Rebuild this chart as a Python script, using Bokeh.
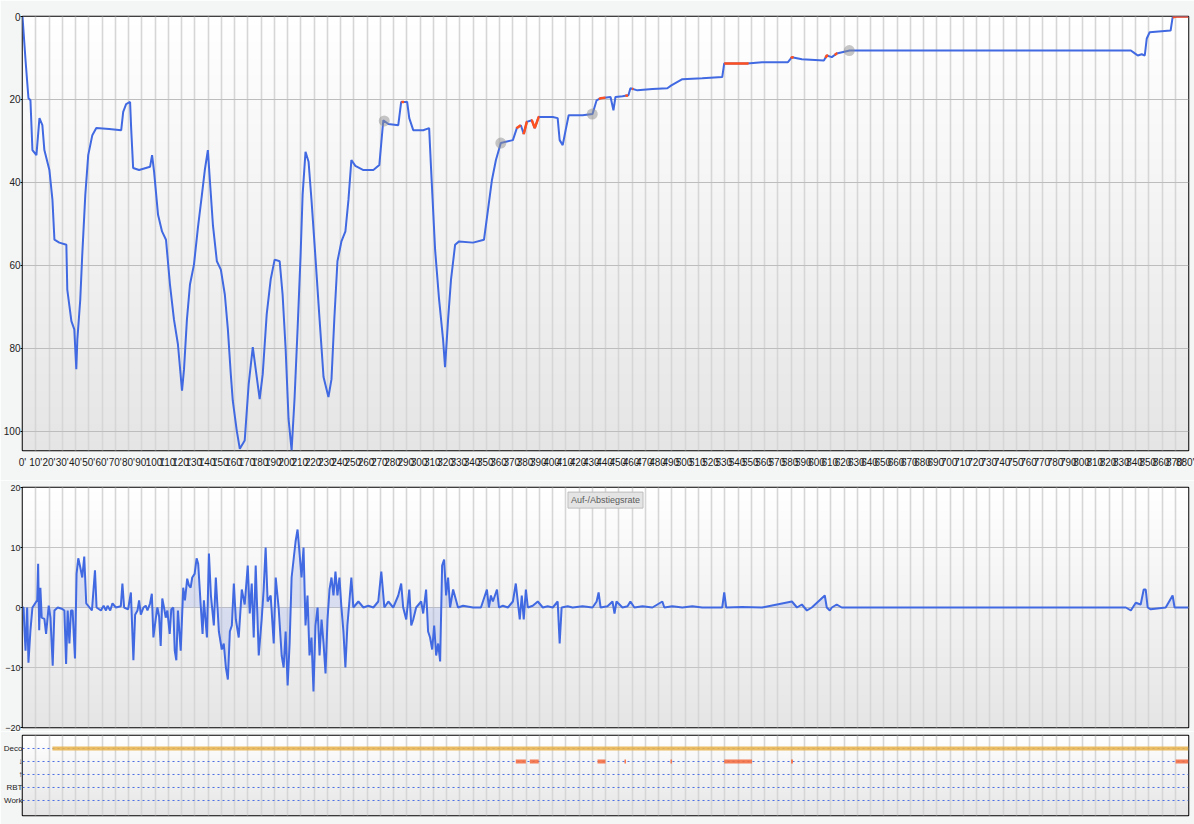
import numpy as np
from bokeh.plotting import figure
from bokeh.layouts import column
from bokeh.models import Range1d, FixedTicker, Label, CustomJSTickFormatter
from bokeh.embed import file_html
from bokeh.resources import INLINE

# ---------------- data ----------------
# depth profile (time in minutes, depth in m)
depth_t = [0, 2.3, 4.5, 6.0, 7.5, 10.5, 12.8, 15.0, 16.5, 20.3,
           22.6, 24.1, 27.8, 33.1, 33.8, 36.9, 39.1, 40.6, 41.4, 43.6,
           45.1, 47.4, 49.6, 52.7, 55.7, 65.4, 74.5, 76.0, 78.2, 81.2,
           82.0, 83.5, 88.0, 96.3, 97.8, 99.3, 102.3, 105.3, 108.3, 111.3,
           114.3, 117.3, 120.4, 121.9, 124.1, 126.4, 129.4, 132.4, 135.4, 137.6,
           139.9, 141.4, 143.7, 146.7, 149.7, 152.7, 155.0, 157.2, 158.7, 161.7,
           164.0, 167.7, 170.7, 173.8, 176.0, 179.0, 181.3, 184.3, 187.3, 190.3,
           194.1, 196.3, 198.6, 200.8, 203.1, 205.3, 207.6, 209.9, 211.4, 213.6,
           215.9, 218.1, 221.1, 224.1, 227.2, 230.9, 233.2, 235.4, 237.7, 240.7,
           243.7, 246.0, 248.2, 251.2, 257.3, 264.8, 269.3, 272.3, 276.1, 283.6,
           285.8, 290.3, 291.9, 294.9, 302.4, 306.9, 308.4, 311.4, 314.4, 317.4,
           318.9, 321.2, 323.4, 326.5, 329.5, 340.0, 348.3, 351.3, 354.3, 357.3,
           361.0, 370.1, 373.1, 376.1, 378.3, 380.6, 384.4, 386.6, 389.6, 400.2,
           403.9, 405.4, 407.7, 409.9, 412.2, 422.7, 430.2, 433.3, 436.3, 443.8,
           446.0, 447.5, 452.8, 457.3, 458.8, 464.1, 475.4, 486.7, 489.7, 498.0,
           513.0, 528.1, 529.6, 546.9, 558.2, 577.7, 580.7, 588.2, 604.8, 607.0,
           610.8, 614.5, 624.3, 640.9, 836.5, 839.5, 841.7, 844.7, 847.0, 848.5,
           850.7, 866.5, 868.0, 871.0, 880]
depth_m = [0, 10.6, 19.7, 20.2, 32.2, 33.4, 24.5, 26.2, 32.2, 37.0,
           44.2, 53.8, 54.5, 55.0, 65.8, 73.4, 75.4, 85.0, 77.8, 68.2,
           57.4, 43.0, 33.4, 28.6, 26.9, 27.1, 27.4, 23.0, 21.1, 20.6,
           26.9, 36.5, 37.0, 36.2, 33.4, 37.4, 47.8, 51.8, 53.8, 64.6,
           73.0, 79.0, 90.2, 85.0, 73.0, 64.6, 59.8, 50.9, 43.0, 37.0,
           32.2, 39.4, 50.2, 59.0, 61.0, 67.0, 75.4, 86.2, 92.6, 99.8,
           104.2, 102.2, 88.6, 79.7, 85.0, 92.2, 86.2, 71.8, 63.4, 58.6,
           59.0, 67.0, 80.2, 97.0, 104.6, 92.2, 75.4, 57.4, 43.0, 32.6,
           35.0, 44.2, 58.1, 72.5, 86.9, 91.7, 87.4, 72.5, 59.0, 54.2,
           51.8, 44.2, 34.6, 36.0, 37.0, 37.0, 35.8, 25.0, 25.9, 26.2,
           20.6, 20.6, 24.5, 27.4, 27.4, 26.9, 37.0, 56.2, 68.2, 77.8,
           84.5, 73.0, 63.4, 55.0, 54.2, 54.5, 53.8, 46.6, 39.4, 34.6,
           30.5, 29.8, 26.9, 26.2, 28.3, 25.4, 25.0, 26.9, 24.2, 24.2,
           24.5, 29.8, 31.0, 27.4, 23.8, 23.8, 23.5, 20.2, 19.7, 19.4,
           22.6, 19.4, 19.2, 19.0, 17.3, 17.8, 17.5, 17.3, 16.6, 15.1,
           14.9, 14.6, 11.3, 11.3, 11.0, 11.0, 9.8, 10.3, 10.6, 9.4,
           9.8, 8.9, 8.2, 8.2, 8.2, 8.9, 9.4, 9.1, 9.4, 5.3,
           3.8, 3.4, 0.2, 0, 0]

# fast-ascent warning windows on the profile (minutes)
red_start = [286, 373, 378, 384, 435, 455, 460, 529.6, 580, 606, 613, 868]
red_end = [288, 376, 381, 390, 440, 457, 461, 548, 582, 608, 615, 880]

# grey event markers (minutes)
marker_t = [273, 361, 430, 624]

# ascent / descent rate (m/min)
rate_t = [0, 0.8, 1.5, 2.3, 3.0, 3.5, 4.5, 6.0, 7.5, 9.6,
          11.1, 11.8, 12.6, 13.5, 14.5, 16.5, 17.8, 19.8, 21.1, 22.8,
          24.1, 26.6, 29.6, 31.6, 32.9, 34.1, 35.4, 36.6, 37.8, 39.6,
          40.8, 42.1, 43.6, 45.1, 46.6, 48.1, 50.6, 52.4, 54.7, 55.9,
          59.2, 61.2, 63.0, 64.2, 66.2, 67.9, 70.5, 74.2, 75.4, 76.7,
          79.7, 81.8, 83.7, 85.0, 86.8, 88.0, 89.3, 91.3, 93.0, 94.3,
          96.3, 97.6, 98.8, 100.6, 101.8, 103.1, 104.3, 105.5, 106.8, 108.1,
          109.3, 111.1, 112.3, 113.8, 114.9, 116.1, 117.3, 119.4, 121.3, 122.6,
          124.3, 125.6, 126.9, 128.1, 129.9, 131.4, 132.6, 134.4, 135.9, 136.9,
          139.2, 140.7, 142.2, 144.4, 145.9, 148.2, 150.4, 151.9, 153.5, 155.0,
          156.5, 158.0, 159.5, 161.0, 163.2, 165.5, 167.7, 170.0, 171.5, 173.0,
          174.5, 176.0, 178.3, 180.5, 182.0, 183.5, 185.0, 187.3, 189.6, 191.1,
          193.3, 195.6, 197.1, 198.6, 200.1, 201.6, 203.1, 204.6, 206.1, 207.6,
          209.1, 210.6, 212.1, 213.6, 215.1, 216.6, 218.1, 219.6, 221.1, 222.7,
          224.2, 225.7, 227.2, 228.7, 230.2, 231.7, 233.2, 234.7, 236.2, 237.7,
          239.2, 240.7, 242.2, 243.7, 245.2, 246.7, 248.2, 249.7,
          253.5, 257.3, 261.0, 264.8, 268.5, 270.8, 273.1, 276.1, 279.8, 283.6,
          285.8, 287.3, 289.6, 291.9, 293.4, 294.9, 297.1, 300.9, 302.4, 304.6,
          306.1, 307.6, 309.2, 310.7, 312.2, 313.7, 315.2, 316.7, 318.2, 319.7,
          321.2, 322.7, 325.0, 328.7, 332.5, 340.0, 346.0, 350.5, 352.0, 353.5,
          355.0, 358.1, 359.6, 362.6, 366.3, 370.1, 372.3, 373.8, 375.3, 376.8,
          378.3, 379.9, 381.4, 385.1, 388.9, 392.7, 396.4, 400.2, 403.9, 405.4,
          406.9, 411.5, 415.2, 422.7, 430.2, 433.3, 434.8, 436.3, 441.5, 445.3,
          446.8, 448.3, 452.8, 456.6, 458.8, 461.8, 467.9, 475.4, 482.9, 484.4,
          490.4, 498.0, 505.5, 513.0, 528.1, 529.6, 531.1, 543.1, 558.2, 580.7,
          584.5, 588.2, 592.0, 595.7, 605.5, 607.0, 609.3, 610.8, 614.5, 618.3,
          625.8, 832.7, 836.5, 840.2, 843.9, 846.2, 847.7, 849.2, 851.5, 862.8,
          868.0, 869.5, 880]
rate_v = [0, 0, -3.8, -7.2, -3.3, 0, -9.2, -3.8, 0, 0.7,
          1.2, 7.3, -3.8, 3.3, -1.7, -1.9, -4.4, 0.3, -1.7, -9.7,
          -0.5, 0, -0.2, -0.5, -9.4, -0.5, -6.0, -0.5, -0.5, -8.5,
          5.6, 8.2, 6.7, 5.0, 8.5, 0.7, 0, -0.5, 6.2, 0,
          -0.5, 0.3, -0.5, 0.3, -0.5, 0.7, 0, 0.2, 4.0, 0,
          -0.3, 2.5, -8.8, -1.2, -0.5, 1.2, -1.2, 0, 0.3, -0.5,
          0.7, 2.3, -5.0, -1.8, 0, -1.5, -6.4, 1.5, 0, -1.7,
          -0.5, -4.4, -0.3, 0, -7.2, -8.8, -0.5, -7.2, 3.3, 1.2,
          4.8, 3.7, 3.3, 5.0, 5.6, 8.2, 7.3, 0.7, -4.4, 1.2,
          -5, 9, 2, -3, 5, -4, -7, -6, -10, -12,
          -4, -3, 4, -2, -5, 3, 0.5, 7, -1, 4,
          -5, 7, -8, -2, 3, 10, 1, 2, -6, 5,
          0, -8, -10, -4, -13, -6, 5, 8, 11, 13,
          9, 5, 10, -3, 2, -8, -5, -14, -3, 0,
          -8, -2, -6, -11, -2, 3, 5, 2, 6, 2,
          5, 0, -4, -10, -3, 1, 5, 0,
          1, 0, 0.3, 0, 1, 6, 0, 1, 0, 2,
          4, 0, -2, 3, -3, -2, 0, 1, -1, 3,
          -4, -5, -7, -3, -8, -6, -9, 7, 8, 2,
          5, 0, 3, 0, 0.3, 0, 0, 3, 0, 2,
          1, 3, 0, 0.3, 0, 1, 4, 1, -2, 2,
          -2, 3, 0, 0.3, 1, 0, 0.2, 0, 1, -6,
          0, 0.2, 0, 0.2, 0, 1, 2.5, 0, 0.2, 1,
          -1, 1, 0, 0.2, 1, 0, 0.2, 0, 1, 0,
          0.2, 0, 0.2, 0, 0, 2.5, 0, 0.1, 0, 1,
          0, 0.5, -0.5, 0, 2, 0, -0.5, 0, 0.5, 0,
          0, 0, -0.5, 0.8, 0.5, 3, 3, 0, -0.3, 0,
          2, 0, 0]

# event rows
row_labels = ["Deco", "\u2193", "\u2191", "RBT", "Work"]
row_pos = [4, 3, 2, 1, 0]
deco_start = [22.6]
deco_end = [880]
down_warn_start = [372.3, 382.9, 434.0, 454.3, 489.0, 529.6, 580.0, 870.3]
down_warn_end = [379.9, 389.6, 440.0, 455.5, 490.2, 550.6, 581.5, 880.0]

time_ticks = list(range(0, 881, 10))
depth_ticks = [0, 20, 40, 60, 80, 100]
rate_ticks = [-20, -10, 0, 10, 20]

# ---------------- style ----------------
BG = "#f4f5f5"
BLUE = "#4169e1"
RED = "#ff5020"
FONT = "Liberation Sans"
W = 1194
LEFT = 19
RIGHT = 6


def add_gradient(p, top=(255, 255, 255), bottom=(229, 229, 229)):
    n = 200
    img = np.empty((n, 1), dtype=np.uint32)
    view = img.view(dtype=np.uint8).reshape((n, 1, 4))
    for i in range(n):
        f = i / (n - 1)
        for c in range(3):
            view[i, 0, c] = int(round(bottom[c] + (top[c] - bottom[c]) * f))
        view[i, 0, 3] = 255
    p.extra_x_ranges = {"bgx": Range1d(0, 1)}
    p.extra_y_ranges = {"bgy": Range1d(0, 1)}
    p.image_rgba(image=[img], x=0, y=0, dw=1, dh=1,
                 x_range_name="bgx", y_range_name="bgy", level="image")


def make_fig(height, top_b, bottom_b, y_range):
    p = figure(width=W, height=height, title=None,
               x_range=Range1d(0, 880), y_range=y_range,
               output_backend="svg", toolbar_location=None,
               min_border_left=LEFT, min_border_right=RIGHT,
               min_border_top=top_b, min_border_bottom=bottom_b,
               border_fill_color=BG, background_fill_color="white",
               outline_line_color="black", outline_line_width=1.5)
    add_gradient(p)
    p.xaxis.ticker = FixedTicker(ticks=time_ticks)
    p.xgrid.ticker = FixedTicker(ticks=time_ticks)
    p.xgrid.grid_line_color = "#d6d6d6"
    p.xgrid.grid_line_width = 1.6
    p.xaxis.axis_line_color = None
    p.xaxis.major_tick_line_color = None
    p.xaxis.minor_tick_line_color = None
    p.yaxis.axis_line_color = None
    p.yaxis.minor_tick_line_color = None
    p.yaxis.major_tick_line_color = "black"
    p.yaxis.major_tick_out = 2
    p.yaxis.major_tick_in = 0
    p.yaxis.major_label_standoff = 0
    p.yaxis.major_label_text_font = FONT
    p.yaxis.major_label_text_color = "#222222"
    return p


# ---------------- panel 1: depth ----------------
p1 = make_fig(480, 16, 30, Range1d(104.6, 0))
p1.xaxis.formatter = CustomJSTickFormatter(code="return tick + \"'\";")
p1.xaxis.major_label_text_font = FONT
p1.xaxis.major_label_text_font_size = "10px"
p1.xaxis.major_label_text_color = "#1a1a1a"
p1.xaxis.major_label_standoff = 6
p1.xaxis.major_tick_out = 0
p1.yaxis.ticker = FixedTicker(ticks=depth_ticks)
p1.ygrid.ticker = FixedTicker(ticks=depth_ticks)
p1.ygrid.grid_line_color = "#bdbdbd"
p1.ygrid.grid_line_width = 1
p1.yaxis.major_label_text_font_size = "10px"

p1.line(depth_t, depth_m, color=BLUE, line_width=2)

red_xs, red_ys = [], []
for s, e in zip(red_start, red_end):
    ts = [s] + [t for t in depth_t if s < t < e] + [e]
    red_xs.append(ts)
    red_ys.append(list(np.interp(ts, depth_t, depth_m)))
p1.multi_line(red_xs, red_ys, line_color=RED, line_width=2.5)

marker_d = list(np.interp(marker_t, depth_t, depth_m))
p1.scatter(marker_t, marker_d, size=11, fill_color="#8f8f8f", fill_alpha=0.5,
           line_color=None)

# ---------------- panel 2: rate ----------------
p2 = make_fig(251, 7, 4, Range1d(-20, 20))
p2.xaxis.visible = False
p2.yaxis.ticker = FixedTicker(ticks=rate_ticks)
p2.ygrid.ticker = FixedTicker(ticks=rate_ticks)
p2.ygrid.grid_line_color = "#c4c4c4"
p2.ygrid.grid_line_width = 1
p2.yaxis.major_label_text_font_size = "9px"

p2.varea(x=rate_t, y1=[0] * len(rate_t), y2=rate_v, fill_color=BLUE, fill_alpha=0.15)
p2.line(rate_t, rate_v, color=BLUE, line_width=2)
p2.add_layout(Label(x=440, y=17.9, text="Auf-/Abstiegsrate",
                    text_align="center", text_baseline="middle",
                    text_font=FONT, text_font_size="9px",
                    text_color="#5a5a5a",
                    background_fill_color="#e4e4e4",
                    border_line_color="#bdbdbd", border_line_width=1,
                    padding=3))

# ---------------- panel 3: events ----------------
p3 = make_fig(93, 4, 9, Range1d(-1.154, 5.0))
p3.xaxis.visible = False
p3.ygrid.visible = False
p3.yaxis.ticker = FixedTicker(ticks=row_pos)
p3.yaxis.major_label_overrides = {float(r): lab for r, lab in zip(row_pos, row_labels)}
p3.yaxis.major_label_text_font_size = "8px"
p3.yaxis.major_tick_line_color = None
p3.yaxis.major_tick_out = 0

p3.multi_line([[0, 880] for _ in row_pos], [[r, r] for r in row_pos],
              line_color="#4a6fe3", line_width=1, line_dash="2 3")
p3.segment(x0=deco_start, y0=[4] * len(deco_start), x1=deco_end, y1=[4] * len(deco_end),
           line_color="#e8b24a", line_width=4, line_alpha=0.85)
p3.segment(x0=down_warn_start, y0=[3] * len(down_warn_start),
           x1=down_warn_end, y1=[3] * len(down_warn_end),
           line_color="#f4683a", line_width=4, line_alpha=0.85)

layout = column(p1, p2, p3, spacing=0)
open("out.html", "w").write(file_html(layout, INLINE))
